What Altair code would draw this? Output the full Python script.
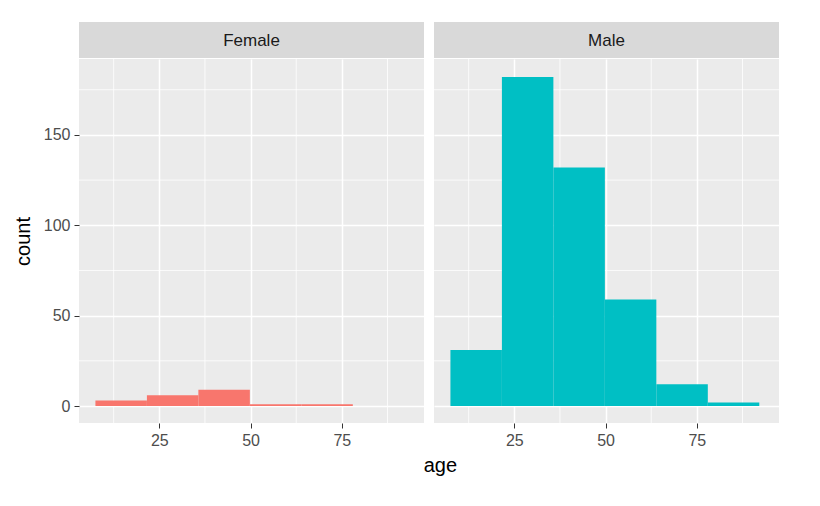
import pandas as pd
import altair as alt

# histogram bins
bin_start = [7.5, 21.6, 35.7, 49.8, 63.9, 78.0]
bin_end = [21.6, 35.7, 49.8, 63.9, 78.0, 92.1]
female_counts = [3, 6, 9, 1, 1, 0]
male_counts = [31, 182, 132, 59, 12, 2]

x_ticks = [25, 50, 75]
x_minor = [12.5, 37.5, 62.5, 87.5]
y_ticks = [0, 50, 100, 150]
y_minor = [25, 75, 125, 175]

W, H, STRIP = 345, 364, 36
XDOM = [3, 97.5]
YDOM = [-9.4, 192]


def panel(label, counts, color, first):
    df = pd.DataFrame({"start": bin_start, "end": bin_end, "count": counts})
    xs = alt.Scale(domain=XDOM, nice=False, zero=False)
    ys = alt.Scale(domain=YDOM, nice=False, zero=False)
    yaxis = alt.Axis(values=y_ticks, title="count" if first else None,
                     labels=first, ticks=first, grid=True, gridColor="white",
                     gridWidth=1.5, titleFontSize=20, titleFontWeight="normal",
                     titleColor="black", titlePadding=10)
    xaxis = alt.Axis(values=x_ticks, title=None, grid=True, gridColor="white",
                     gridWidth=1.5)
    xmin = alt.Chart(pd.DataFrame({"v": x_minor})).mark_rule(
        color="white", strokeWidth=0.8).encode(x=alt.X("v:Q", scale=xs, axis=xaxis))
    ymin = alt.Chart(pd.DataFrame({"v": y_minor})).mark_rule(
        color="white", strokeWidth=0.8).encode(y=alt.Y("v:Q", scale=ys, axis=yaxis))
    bars = alt.Chart(df).mark_rect(color=color, strokeWidth=0).encode(
        x=alt.X("start:Q", scale=xs),
        x2="end:Q",
        y=alt.Y("count:Q", scale=ys),
        y2=alt.datum(0),
    )
    plot = (xmin + ymin + bars).properties(width=W, height=H)
    sdf = pd.DataFrame({"s": [label]})
    strip = (
        alt.Chart(sdf).mark_rect(color="#D9D9D9").encode(
            x=alt.value(0), x2=alt.value(W), y=alt.value(0), y2=alt.value(STRIP))
        + alt.Chart(sdf).mark_text(fontSize=17, color="#1A1A1A").encode(
            text="s:N", x=alt.value(W / 2), y=alt.value(STRIP / 2 + 1))
    ).properties(width=W, height=STRIP, view=alt.ViewConfig(stroke=None, fill=None))
    return alt.vconcat(strip, plot, spacing=0)


chart = alt.hconcat(
    panel("Female", female_counts, "#F8766D", True),
    panel("Male", male_counts, "#00BFC4", False),
    spacing=8,
).properties(
    title=alt.TitleParams("age", orient="bottom", anchor="middle", fontSize=20,
                          fontWeight="normal", color="black", dx=44, offset=8),
    background="white",
    padding={"left": 5, "top": 14, "right": 5, "bottom": 5},
).configure_view(
    fill="#EBEBEB", stroke=None
).configure_axis(
    domain=False, labelFontSize=16, labelColor="#4D4D4D", tickColor="#333333",
    tickSize=5, labelPadding=4, labelFont="Liberation Sans", titleFont="Liberation Sans"
).configure_text(font="Liberation Sans").configure_title(font="Liberation Sans")

chart.save("out.html", embed_options={"renderer": "svg", "actions": False})
